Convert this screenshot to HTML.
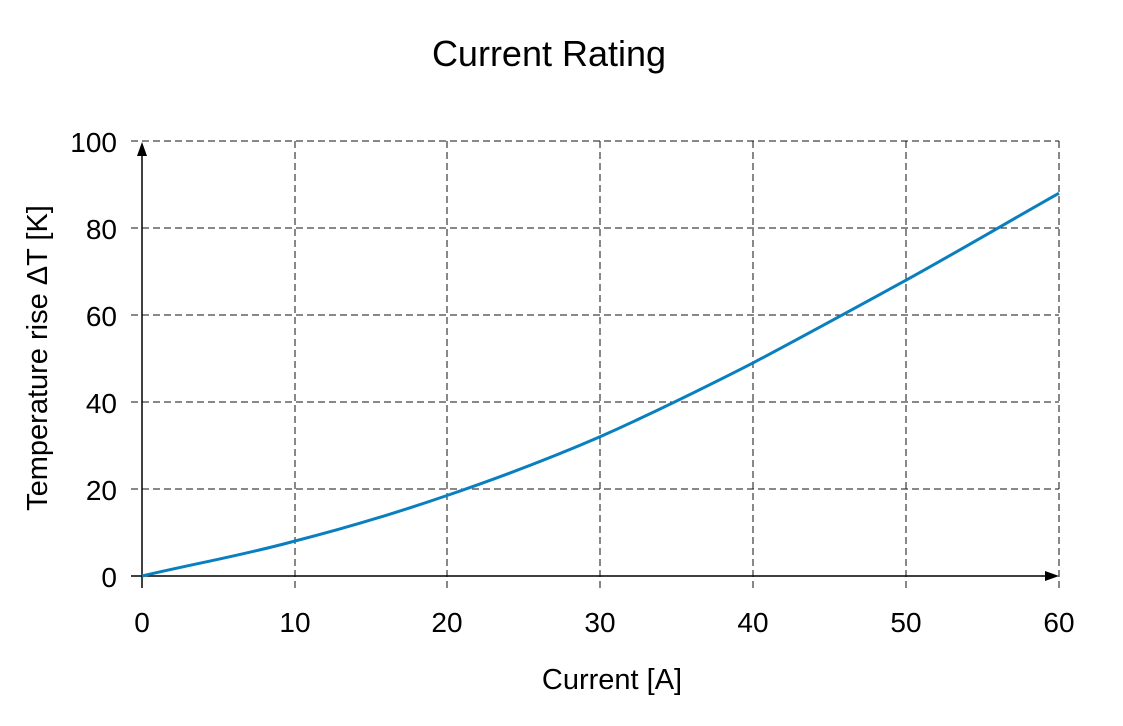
<!DOCTYPE html>
<html><head><meta charset="utf-8"><style>body{margin:0;background:#fff}svg{display:block}text{font-family:"Liberation Sans",sans-serif;fill:#000}</style></head><body>
<svg width="1123" height="726" viewBox="0 0 1123 726" xmlns="http://www.w3.org/2000/svg">
<text x="549" y="66" font-size="36" text-anchor="middle">Current Rating</text>
<g stroke="#111" stroke-width="1" stroke-dasharray="7,4" fill="none" shape-rendering="crispEdges">
<line x1="131" y1="141" x2="1059" y2="141"/>
<line x1="131" y1="228" x2="1059" y2="228"/>
<line x1="131" y1="315" x2="1059" y2="315"/>
<line x1="131" y1="402" x2="1059" y2="402"/>
<line x1="131" y1="489" x2="1059" y2="489"/>
<line x1="295" y1="141" x2="295" y2="588"/>
<line x1="447" y1="141" x2="447" y2="588"/>
<line x1="600" y1="141" x2="600" y2="588"/>
<line x1="753" y1="141" x2="753" y2="588"/>
<line x1="906" y1="141" x2="906" y2="588"/>
<line x1="1059" y1="141" x2="1059" y2="588"/>
</g>
<line x1="142" y1="588" x2="142" y2="150" stroke="#000" stroke-width="1.5"/>
<polygon points="142,142 137,156 147,156" fill="#000"/>
<line x1="131" y1="576" x2="1050" y2="576" stroke="#000" stroke-width="1.5"/>
<polygon points="1059,576 1045,571 1045,581" fill="#000"/>
<path d="M142,576 C193,564 244,555 295,541 C346,528 396,513 447,495.5 C498,478 549,459 600,436.8 C651,414 702,389 753,362.9 C804,336 855,308 906,280.2 C957,252 1008,222 1059,193.2" fill="none" stroke="#0a7fbf" stroke-width="3"/>
<g font-size="28" text-anchor="end">
<text x="117" y="152">100</text><text x="117" y="239">80</text><text x="117" y="326">60</text><text x="117" y="413">40</text><text x="117" y="500">20</text><text x="117" y="587">0</text>
</g>
<g font-size="28" text-anchor="middle">
<text x="142" y="632">0</text><text x="295" y="632">10</text><text x="447" y="632">20</text><text x="600" y="632">30</text><text x="753" y="632">40</text><text x="906" y="632">50</text><text x="1059" y="632">60</text>
</g>
<text x="612" y="689" font-size="29" text-anchor="middle">Current [A]</text>
<text transform="translate(47,358) rotate(-90)" font-size="29" text-anchor="middle">Temperature rise ΔT [K]</text>
</svg>
</body></html>
